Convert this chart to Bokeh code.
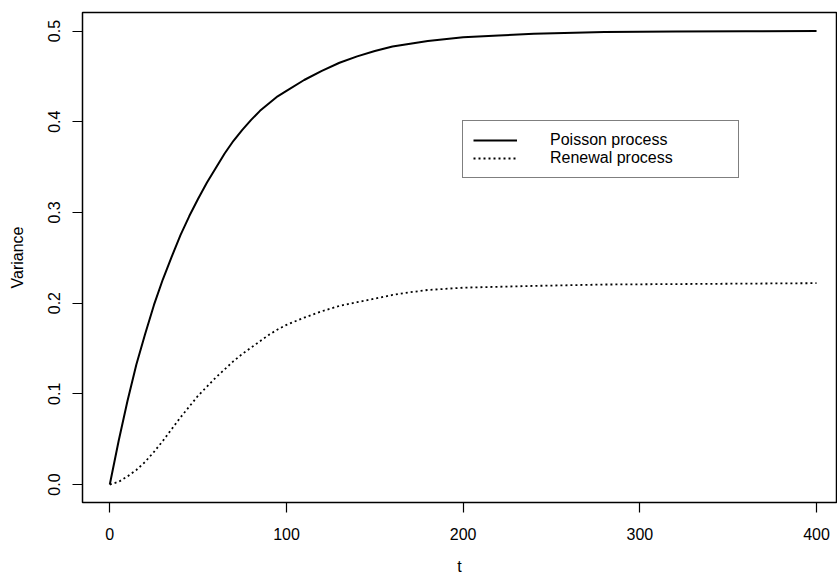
from bokeh.plotting import figure
from bokeh.models import Range1d, FixedTicker, Legend, LegendItem, ColumnDataSource
from bokeh.embed import file_html
from bokeh.resources import INLINE

# ---- data ----
t_poisson = [0, 5, 10, 15, 20, 25, 30, 35, 40, 45, 50, 55, 60, 65, 70, 75, 80, 85,
             90, 95, 100, 110, 120, 130, 140, 150, 160, 170, 180, 200, 220, 240,
             280, 320, 360, 400]
var_poisson = [0.0, 0.048, 0.092, 0.132, 0.166, 0.198, 0.226, 0.251, 0.275, 0.296,
               0.315, 0.333, 0.349, 0.365, 0.379, 0.391, 0.402, 0.412,
               0.420, 0.428, 0.434, 0.446, 0.456, 0.465, 0.472, 0.478, 0.483, 0.486,
               0.489, 0.493, 0.495, 0.497, 0.499, 0.4995, 0.4998, 0.5]

t_renewal = [0, 5, 10, 15, 20, 25, 30, 35, 40, 45, 50, 55, 60, 65, 70, 75, 80, 85,
             90, 95, 100, 110, 120, 130, 140, 150, 160, 170, 180, 200, 240, 280,
             320, 360, 400]
var_renewal = [0.0, 0.003, 0.009, 0.016, 0.025, 0.036, 0.048, 0.061, 0.074, 0.086,
               0.098, 0.108, 0.118, 0.127, 0.136, 0.144, 0.151, 0.158,
               0.165, 0.171, 0.176, 0.184, 0.191, 0.197, 0.201, 0.205, 0.209, 0.212,
               0.2145, 0.217, 0.219, 0.2205, 0.221, 0.2215, 0.222]

x_ticks = [0, 100, 200, 300, 400]
y_ticks = [0.0, 0.1, 0.2, 0.3, 0.4, 0.5]
y_tick_labels = ["0.0", "0.1", "0.2", "0.3", "0.4", "0.5"]
series_labels = ["Poisson process", "Renewal process"]

FONT = "Liberation Sans"

p = figure(width=837, height=577, output_backend="svg", toolbar_location=None,
           x_range=Range1d(-15.45, 411.3), y_range=Range1d(-0.0198, 0.5204),
           min_border_left=82, min_border_right=1, min_border_top=12, min_border_bottom=75)

p.background_fill_color = "white"
p.border_fill_color = "white"
p.outline_line_color = "black"
p.outline_line_width = 1.5
p.xgrid.visible = False
p.ygrid.visible = False

src_p = ColumnDataSource(dict(t=t_poisson, v=var_poisson))
src_r = ColumnDataSource(dict(t=t_renewal, v=var_renewal))
r1 = p.line("t", "v", source=src_p, line_color="black", line_width=2,
            line_join="round")
r2 = p.line("t", "v", source=src_r, line_color="black", line_width=1.8,
            line_dash="2 3")

# axes
for ax in (p.xaxis[0], p.yaxis[0]):
    ax.axis_line_color = None
    ax.major_tick_in = 0
    ax.major_tick_out = 10
    ax.major_tick_line_color = "black"
    ax.major_tick_line_width = 1.2
    ax.minor_tick_line_color = None
    ax.major_label_text_font = FONT
    ax.major_label_text_font_size = "16px"
    ax.major_label_text_color = "black"
    ax.axis_label_text_font = FONT
    ax.axis_label_text_font_size = "16px"
    ax.axis_label_text_font_style = "normal"
    ax.axis_label_text_color = "black"

p.xaxis.ticker = FixedTicker(ticks=x_ticks)
p.yaxis.ticker = FixedTicker(ticks=y_ticks)
p.yaxis.major_label_overrides = {v: s for v, s in zip(y_ticks, y_tick_labels)}
p.yaxis.major_label_orientation = "vertical"
p.xaxis.axis_label = "t"
p.yaxis.axis_label = "Variance"
p.xaxis.major_label_standoff = 15
p.xaxis.axis_label_standoff = 15
p.yaxis.major_label_standoff = 12
p.yaxis.axis_label_standoff = 20

legend = Legend(items=[LegendItem(label=series_labels[0], renderers=[r1]),
                       LegendItem(label=series_labels[1], renderers=[r2])],
                location=(380, 324))
legend.border_line_color = "black"
legend.border_line_width = 1.5
legend.background_fill_color = "white"
legend.background_fill_alpha = 1.0
legend.label_text_font = FONT
legend.label_text_font_size = "16px"
legend.label_text_color = "black"
legend.glyph_width = 44
legend.glyph_height = 12
legend.label_height = 12
legend.label_standoff = 33
legend.label_width = 178
legend.padding = 10
legend.spacing = 0
legend.margin = 0
p.add_layout(legend, "center")

open("out.html", "w").write(file_html(p, INLINE))
